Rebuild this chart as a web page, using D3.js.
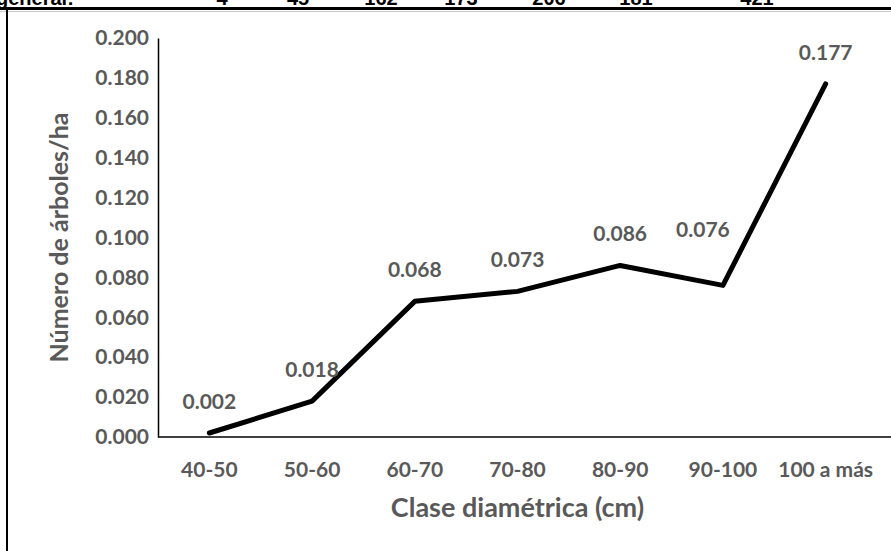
<!DOCTYPE html>
<html>
<head>
<meta charset="utf-8">
<script src="https://cdn.jsdelivr.net/npm/d3@7"></script>
<style>
  body { margin: 0; background: #fff; }
  svg { display: block; font-family: Lato, "Open Sans", sans-serif; }
</style>
</head>
<body>
<div id="chart-area"></div>
<script>
// data
var categories = ['40-50', '50-60', '60-70', '70-80', '80-90', '90-100', '100 a más'];
var treesPerHa = [0.002, 0.018, 0.068, 0.073, 0.086, 0.076, 0.177];
var yTicks = [0, 0.02, 0.04, 0.06, 0.08, 0.1, 0.12, 0.14, 0.16, 0.18, 0.2];
// cut-off row of the table above the chart
var tableRowLabel = 'general:';
var tableRowValues = ['4', '45', '162', '173', '206', '181', '421'];

var width = 891;
var height = 551;
var grey = '#595959';

var svg = d3.select('#chart-area')
	.append('svg')
	.attr('width', width)
	.attr('height', height);

var plot = { left: 158, right: 877, top: 38, bottom: 437 };

var x = d3.scaleBand()
	.domain(categories)
	.range([plot.left, plot.right]);

var y = d3.scaleLinear()
	.domain([0, 0.2])
	.range([plot.bottom, plot.top]);

// table remnants on top / left
var rowCols = [222, 298, 381, 461, 549, 636, 757];
svg.append('text')
	.attr('x', -4)
	.attr('y', 5)
	.attr('font-family', 'Liberation Sans')
	.attr('font-size', 20)
	.attr('font-weight', 'bold')
	.text(tableRowLabel);
svg.append('g')
	.selectAll('text')
	.data(tableRowValues)
	.enter()
		.append('text')
		.attr('x', (d, i) => rowCols[i])
		.attr('y', 5)
		.attr('text-anchor', 'middle')
		.attr('font-family', 'Liberation Sans')
		.attr('font-size', 20)
		.attr('font-weight', 'bold')
		.text(d => d);
svg.append('rect')
	.attr('x', 0).attr('y', 7)
	.attr('width', width).attr('height', 4)
	.attr('fill', '#fff');
svg.append('line')
	.attr('x1', 0).attr('x2', width)
	.attr('y1', 8.5).attr('y2', 8.5)
	.attr('stroke', '#000')
	.attr('stroke-width', 3);
svg.append('line')
	.attr('x1', 0).attr('x2', width)
	.attr('y1', 11.5).attr('y2', 11.5)
	.attr('stroke', '#ccc')
	.attr('stroke-width', 1);
svg.append('line')
	.attr('x1', 7).attr('x2', 7)
	.attr('y1', 10).attr('y2', height)
	.attr('stroke', '#000')
	.attr('stroke-width', 2);

// axes
var yAxis = d3.axisLeft(y)
	.tickValues(yTicks)
	.tickSize(0)
	.tickPadding(9)
	.tickFormat(d3.format('.3f'));
svg.append('g')
	.attr('transform', 'translate(' + plot.left + ',0)')
	.call(yAxis)
	.call(g => g.select('.domain').attr('stroke', '#000').attr('stroke-width', 1.5))
	.selectAll('text')
		.attr('font-family', 'Lato')
		.attr('font-size', 21)
		.attr('font-weight', 'bold')
		.attr('fill', grey);

var xAxis = d3.axisBottom(x).tickSize(0).tickPadding(25);
svg.append('g')
	.attr('transform', 'translate(0,' + plot.bottom + ')')
	.call(xAxis)
	.call(g => g.select('.domain').attr('d', 'M' + plot.left + ',0H' + width).attr('stroke', '#000').attr('stroke-width', 1.5))
	.selectAll('text')
		.attr('font-family', 'Lato')
		.attr('font-size', 21)
		.attr('font-weight', 'bold')
		.attr('fill', grey);

// axis titles
svg.append('text')
	.attr('x', (plot.left + plot.right) / 2)
	.attr('y', 517)
	.attr('text-anchor', 'middle')
	.attr('font-size', 27)
	.attr('font-weight', 'bold')
	.attr('fill', grey)
	.text('Clase diamétrica (cm)');

svg.append('text')
	.attr('transform', 'translate(68,' + (plot.top + plot.bottom) / 2 + ') rotate(-90)')
	.attr('text-anchor', 'middle')
	.attr('font-size', 25)
	.attr('font-weight', 'bold')
	.attr('fill', grey)
	.text('Número de árboles/ha');

// the line
var line = d3.line()
	.x((d, i) => x(categories[i]) + x.bandwidth() / 2)
	.y(d => y(d));

svg.append('path')
	.datum(treesPerHa)
	.attr('d', line)
	.attr('fill', 'none')
	.attr('stroke', '#000')
	.attr('stroke-width', 5)
	.attr('stroke-linejoin', 'round')
	.attr('stroke-linecap', 'round');

// data labels (the 90-100 one was dragged up and left in the original)
var labelNudge = { '90-100': [-20, -24] };
svg.append('g')
	.selectAll('text')
	.data(treesPerHa)
	.enter()
		.append('text')
		.attr('x', (d, i) => x(categories[i]) + x.bandwidth() / 2 + (labelNudge[categories[i]] || [0, 0])[0])
		.attr('y', (d, i) => y(d) - 24 + (labelNudge[categories[i]] || [0, 0])[1])
		.attr('text-anchor', 'middle')
		.attr('font-size', 21)
		.attr('font-weight', 'bold')
		.attr('fill', grey)
		.text(d => d3.format('.3f')(d));
</script>
</body>
</html>
